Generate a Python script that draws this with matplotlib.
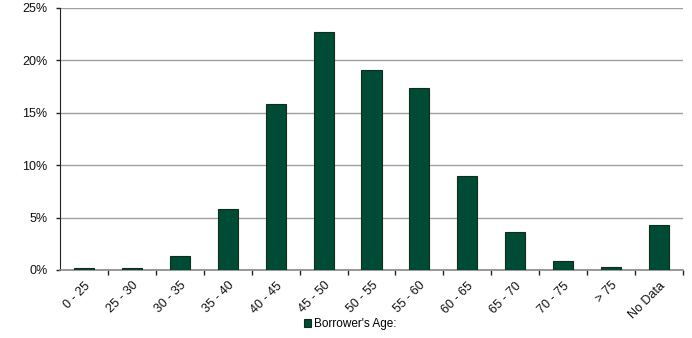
import matplotlib
matplotlib.use("Agg")
import matplotlib.pyplot as plt
from matplotlib.ticker import PercentFormatter
from matplotlib.patches import Patch

plt.rcParams['font.family'] = ['Liberation Sans', 'DejaVu Sans']

age_bands = ["0 - 25", "25 - 30", "30 - 35", "35 - 40", "40 - 45", "45 - 50",
             "50 - 55", "55 - 60", "60 - 65", "65 - 70", "70 - 75", "> 75", "No Data"]
share_pct = [0.15, 0.15, 1.35, 5.8, 15.8, 22.7, 19.05, 17.4, 9.0, 3.6, 0.85, 0.3, 4.25]
y_ticks = [0, 5, 10, 15, 20, 25]

bar_color = "#004B35"
edge_color = "#0E2E1A"

fig = plt.figure(figsize=(6.92, 3.38), dpi=100)
ax = fig.add_axes([60 / 692, 1 - 270 / 338, 623 / 692, 262 / 338])

x = list(range(len(age_bands)))
ax.bar(x, share_pct, width=0.42, color=bar_color, edgecolor=edge_color,
       linewidth=0.8, zorder=3, label="Borrower's Age:")

ax.set_xlim(-0.5, len(age_bands) - 0.5)
ax.set_ylim(0, 25)
ax.set_yticks(y_ticks)
ax.yaxis.set_major_formatter(PercentFormatter(decimals=0))
ax.grid(axis='y', color='#A0A0A0', linewidth=1.0, zorder=0)

# category labels at bar centres, tick marks between categories
ax.set_xticks(x)
ax.set_xticklabels(age_bands, rotation=45, ha='right', rotation_mode='anchor',
                   fontsize=9, color='#111111')
ax.tick_params(axis='x', length=0, pad=7)
ax.set_xticks([i + 0.5 for i in x], minor=True)
ax.tick_params(axis='x', which='minor', length=3.5, width=1, color='#222222', direction='out')
ax.tick_params(axis='y', length=3, width=1, pad=6, labelsize=9, color='#222222', labelcolor='#111111')

for side in ('top', 'right'):
    ax.spines[side].set_visible(False)
ax.spines['left'].set_color('#222222')
ax.spines['bottom'].set_color('#888888')
ax.spines['bottom'].set_linewidth(1.2)

handle = Patch(facecolor=bar_color, edgecolor=edge_color, linewidth=0.8)
fig.legend([handle], ["Borrower's Age:"], loc='center', bbox_to_anchor=(350 / 692, 1 - 324 / 338),
           frameon=False, fontsize=8.5, handlelength=0.6, handleheight=0.6, handletextpad=0.25,
           borderpad=0)

fig.savefig("out.png", dpi=100)
